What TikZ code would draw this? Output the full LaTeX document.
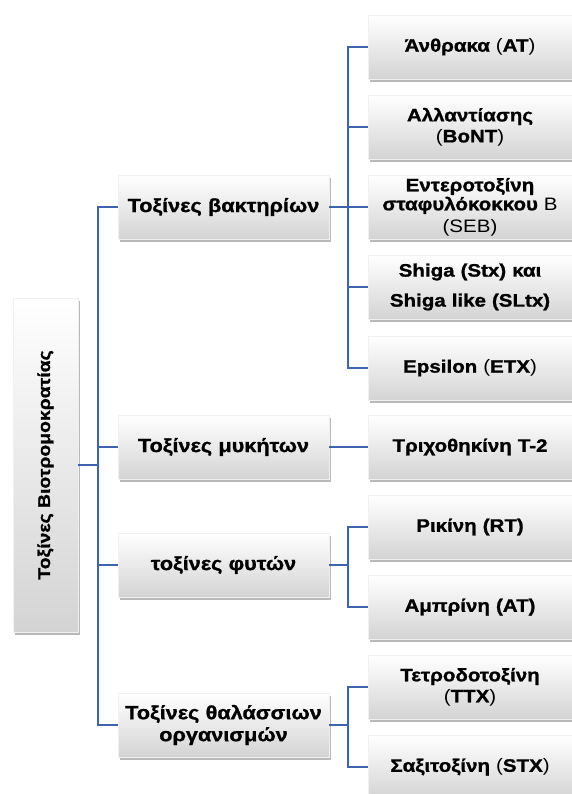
\documentclass[tikz,border=0pt]{standalone}
\usepackage{fontspec}
\setmainfont{Liberation Sans}[FakeStretch=1.14, BoldFeatures={FakeBold=1.2}]
\usepackage{tikz}
\usetikzlibrary{shadows}
\definecolor{linkblue}{RGB}{62,100,176}
\tikzstyle{leaf} = [rectangle, minimum width=204pt, minimum height=64pt, text width=196pt, inner sep=2pt, align=center, top color=white, bottom color=black!17, draw=black!6, drop shadow={shadow xshift=1.5pt, shadow yshift=-3pt, opacity=0.55}, font=\fontsize{18}{21}\selectfont\bfseries]
\tikzstyle{group} = [rectangle, minimum width=211pt, minimum height=64pt, text width=205pt, inner sep=2pt, align=center, top color=white, bottom color=black!17, draw=black!6, drop shadow={shadow xshift=1.5pt, shadow yshift=-3pt, opacity=0.55}, font=\fontsize{19}{22}\selectfont\bfseries]
\tikzstyle{rootbox} = [rectangle, rotate=90, minimum width=334pt, minimum height=65pt, inner sep=2pt, align=center, top color=white, bottom color=black!17, draw=black!6, drop shadow={shadow xshift=1.5pt, shadow yshift=-3pt, opacity=0.55}, font=\fontsize{17}{20}\selectfont\bfseries]
\tikzstyle{link} = [draw=linkblue, line width=1.6pt]

\begin{document}
\begin{tikzpicture}[x=1pt, y=-1pt, node distance=80pt]
	\useasboundingbox (0,0) rectangle (572,794);
	\node(root) [rootbox] at (45.5,465) {Τοξίνες Βιοτρομοκρατίας};
	%----------------------------------------------------%
	\node(bact) [group] at (223.5,207) {Τοξίνες βακτηρίων};
	\node(fung) [group] at (223.5,447) {Τοξίνες μυκήτων};
	\node(plant) [group] at (223.5,565) {τοξίνες φυτών};
	\node(mar) [group] at (223.5,725) {Τοξίνες θαλάσσιων\\οργανισμών};
	%----------------------------------------------------%
	\node(ant) [leaf] at (470,47) {Άνθρακα {\mdseries(}AT{\mdseries)}};
	\node(bont) [leaf, below of=ant] {Αλλαντίασης\\{\mdseries(}BoNT{\mdseries)}};
	\node(seb) [leaf, below of=bont, font=\fontsize{18}{19}\selectfont\bfseries] {Εντεροτοξίνη\\σταφυλόκοκκου {\mdseries B}\\[3pt]{\mdseries (SEB)}};
	\node(stx) [leaf, below of=seb] {Shiga (Stx) και\\[9pt]Shiga like (SLtx)};
	\node(etx) [leaf, below of=stx, yshift=-1pt] {Epsilon {\mdseries(}ETX{\mdseries)}};
	\node(tri) [leaf, below of=etx, yshift=1pt] {Τριχοθηκίνη Τ-2};
	\node(rt) [leaf, below of=tri] {Ρικίνη (RT)};
	\node(abr) [leaf, below of=rt] {Αμπρίνη (AT)};
	\node(ttx) [leaf, below of=abr] {Τετροδοτοξίνη\\{\mdseries(}TTX{\mdseries)}};
	\node(sax) [leaf, below of=ttx] {Σαξιτοξίνη {\mdseries(}STX{\mdseries)}};
	%----------------------------------------------------%
	\foreach \g in {bact,fung,plant,mar}
		\draw[link] (root.south) -- ++(20,0) |- (\g.west);
	\foreach \l in {ant,bont,seb,stx,etx}
		\draw[link] (bact.east) -- ++(19,0) |- (\l.west);
	\draw[link] (fung) -- (tri);
	\foreach \l in {rt,abr}
		\draw[link] (plant.east) -- ++(19,0) |- (\l.west);
	\foreach \l in {ttx,sax}
		\draw[link] (mar.east) -- ++(19,0) |- (\l.west);
\end{tikzpicture}
\end{document}
